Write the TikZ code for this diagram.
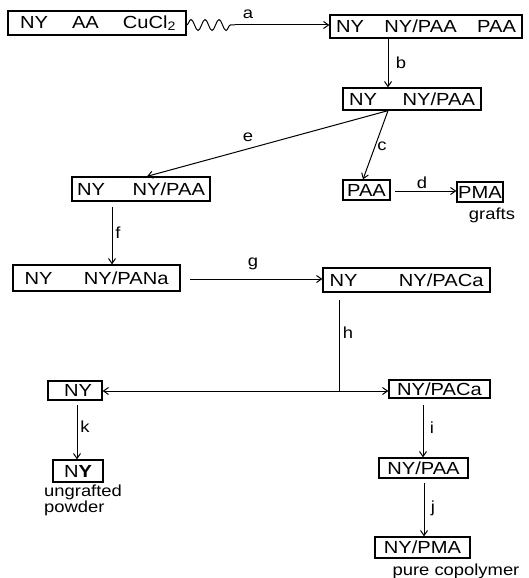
\documentclass[tikz,border=0pt]{standalone}
\usepackage{fontspec}
\setmainfont[FakeStretch=1.15]{Liberation Sans}
\usetikzlibrary{arrows.meta,decorations.pathmorphing}
\begin{document}
\begin{tikzpicture}[x=1pt,y=-1pt,
  bx/.style={draw, line width=1.3pt, inner xsep=0pt, inner ysep=0pt, anchor=center,
    font=\fontsize{17.5}{17.5}\selectfont},
  lbl/.style={font=\fontsize{16}{16}\selectfont, inner sep=0pt, anchor=center},
  note/.style={font=\fontsize{16}{16}\selectfont, inner sep=0pt, anchor=center},
  arr/.style={line width=1pt, -{Straight Barb[length=5pt,width=7pt,line width=1pt]}},
  ln/.style={line width=1pt}]
\useasboundingbox (0,0) rectangle (528,578);

% boxes
\node[bx, minimum width=178pt, minimum height=24pt] (b1) at (97,23)
  {\hbox to 158pt{\hspace{2pt}NY\hfill AA\hfill CuCl\textsubscript{2}}};
\node[bx, minimum width=192pt, minimum height=23pt] (b2) at (426,26.5)
  {\hbox to 180pt{NY\hfill NY/PAA\hfill PAA}};
\node[bx, minimum width=138pt, minimum height=22pt] (b3) at (412,99)
  {\hbox to 126pt{NY\hfill NY/PAA}};
\node[bx, minimum width=138pt, minimum height=24pt] (b4) at (141,189)
  {\hbox to 128pt{NY\hfill NY/PAA}};
\node[bx, minimum width=47pt, minimum height=20pt] (b5) at (366.5,190) {PAA};
\node[bx, minimum width=46pt, minimum height=20pt] (b6) at (480,192) {PMA};
\node[bx, minimum width=167pt, minimum height=26pt] (b7) at (96.5,278)
  {\hbox to 144pt{NY\hfill NY/PANa}};
\node[bx, minimum width=167pt, minimum height=24pt] (b8) at (406.5,280)
  {\hbox to 154pt{NY\hfill NY/PACa}};
\node[bx, minimum width=54pt, minimum height=19pt] (b9) at (75,390.5) {\hspace{6pt}NY};
\node[bx, minimum width=101pt, minimum height=18pt] (b10) at (439.5,389) {NY/PACa};
\node[bx, minimum width=50pt, minimum height=22pt] (b11) at (78,471) {N\textbf{Y}};
\node[bx, minimum width=89pt, minimum height=20pt] (b12) at (423.5,468) {NY/PAA};
\node[bx, minimum width=95pt, minimum height=21pt] (b13) at (422.5,547.5) {NY/PMA};

% notes
\node[note] (grafts) at (492,215) {grafts};
\node[note, anchor=west] (ung) at (44,492) {ungrafted};
\node[note, anchor=west] (pow) at (44,508) {powder};
\node[note] (pure) at (456,571) {pure copolymer};

% helper coordinates
\coordinate (wa) at (235,25);
\coordinate (bb) at (388,0);
\coordinate (ee) at (147,0);
\coordinate (cc) at (363,0);
\coordinate (ds) at (395,191);
\coordinate (ff) at (112,207);
\coordinate (gs) at (190,279);
\coordinate (hs) at (339,300);
\coordinate (hj) at (339,391);
\coordinate (ks) at (77,405);
\coordinate (is) at (423,405);
\coordinate (js) at (424,483);

% a
\draw[ln, decorate, decoration={snake, segment length=14pt, amplitude=5.5pt}]
  (b1.east |- wa) -- (wa);
\draw[arr] (wa) -- (b2.west |- wa);
\node[lbl] (la) at (248,14) {a};
% b
\draw[arr] (b2.south -| bb) -- (b3.north -| bb);
\node[lbl] (lb) at (401,63) {b};
% e
\draw[arr] (b3.south -| bb) -- (b4.north -| ee);
\node[lbl] (le) at (248,137) {e};
% c
\draw[arr] (b3.south -| bb) -- (b5.north -| cc);
\node[lbl] (lc) at (382,146) {c};
% d
\draw[arr] (ds) -- (b6.west |- ds);
\node[lbl] (ld) at (422,183) {d};
% f
\draw[arr] (ff) -- (b7.north -| ff);
\node[lbl] (lf) at (118,233) {f};
% g
\draw[arr] (gs) -- (b8.west |- gs);
\node[lbl] (lg) at (253,264) {g};
% h
\draw[ln] (hs) -- (hj);
\node[lbl] (lh) at (348,333) {h};
\draw[arr] (hj) -- (b9.east |- hj);
\draw[arr] (hj) -- (b10.west |- hj);
% k
\draw[arr] (ks) -- (b11.north -| ks);
\node[lbl] (lk) at (85,427) {k};
% i
\draw[arr] (is) -- (b12.north -| is);
\node[lbl] (li) at (432,428) {i};
% j
\draw[arr] (js) -- (b13.north -| js);
\node[lbl] (lj) at (433,508) {j};
\end{tikzpicture}
\end{document}
